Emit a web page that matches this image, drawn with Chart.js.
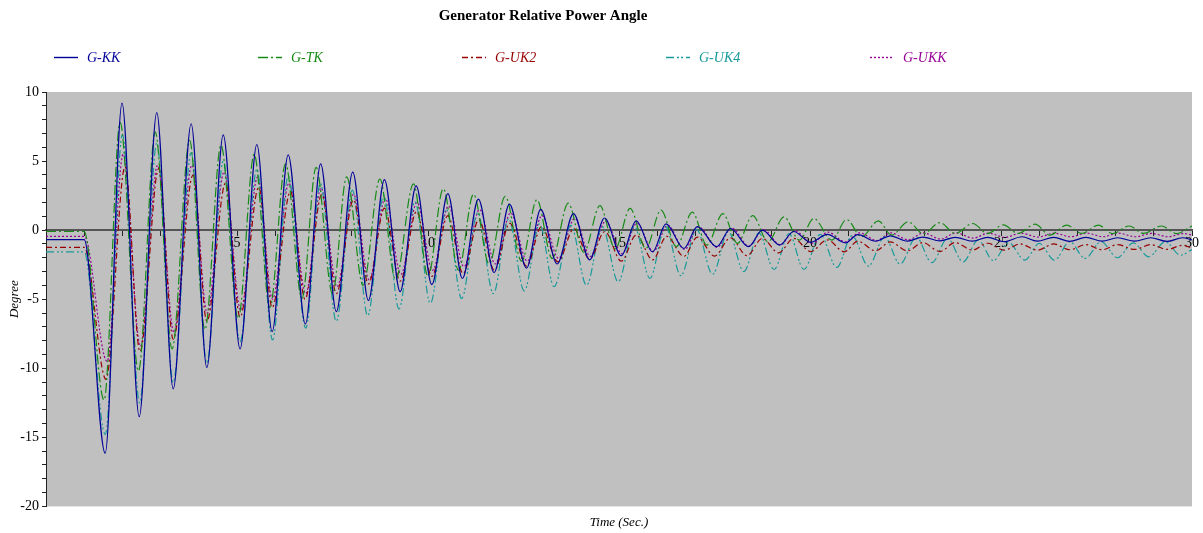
<!DOCTYPE html>
<html>
<head>
<meta charset="utf-8">
<title>Generator Relative Power Angle</title>
<script src="https://cdn.jsdelivr.net/npm/chart.js@4"></script>
<style>
  html, body { margin: 0; padding: 0; background: #fff; }
  #angle { display: block; }
</style>
</head>
<body>
<canvas id="angle" width="1203" height="533"></canvas>
<script>
const seriesNames = ["G-KK", "G-TK", "G-UK2", "G-UK4", "G-UKK"];
const seriesColors = ["#000098", "#168a16", "#960000", "#1a9a9a", "#960096"];
const seriesDashes = [[], [10, 3, 2, 3], [6, 3, 2, 3], [8, 3, 2, 2, 2, 3], [2, 2]];

// [time (s), angle (deg)]: pre-fault level, then each peak / trough
const gKK = [
  [0, -0.68], [1.0, -0.68], [1.55, -16.15], [1.99, 9.2], [2.44, -13.5], [2.90, 8.5],
  [3.33, -11.5], [3.80, 7.7], [4.21, -9.95], [4.64, 6.9], [5.08, -8.6], [5.52, 6.2],
  [5.92, -7.35], [6.34, 5.45], [6.79, -6.8], [7.19, 4.8], [7.60, -5.9], [8.03, 4.2],
  [8.44, -5.1], [8.86, 3.65], [9.27, -4.45], [9.69, 3.2], [10.10, -3.95], [10.52, 2.65],
  [10.90, -3.5], [11.32, 2.25], [11.73, -3.08], [12.13, 1.88], [12.58, -2.75], [12.95, 1.5],
  [13.38, -2.45], [13.81, 1.2], [14.23, -2.15], [14.62, 0.88], [15.06, -1.85], [15.45, 0.67],
  [15.88, -1.57], [16.23, 0.45], [16.70, -1.33], [17.05, 0.26], [17.56, -1.2], [17.92, 0.12],
  [18.39, -1.2], [18.75, 0.0], [19.21, -1.08], [19.57, -0.1], [20.02, -0.88], [20.45, -0.3],
  [20.93, -0.92], [21.25, -0.33], [21.72, -0.8], [22.10, -0.42], [22.55, -0.8], [22.95, -0.5],
  [23.40, -0.78], [23.80, -0.52], [24.25, -0.8], [24.65, -0.52], [25.08, -0.84], [25.55, -0.48],
  [25.95, -0.8], [26.38, -0.52], [26.80, -0.82], [27.22, -0.52], [27.65, -0.8], [28.05, -0.55],
  [28.50, -0.8], [28.92, -0.55], [29.35, -0.82], [29.75, -0.55], [30, -0.7]
];
const gTK = [
  [0, -0.1], [1.0, -0.1], [1.52, -12.3], [1.94, 7.8], [2.42, -10.2], [2.86, 7.1],
  [3.30, -8.6], [3.76, 6.5], [4.16, -7.2], [4.58, 6.15], [5.03, -6.4], [5.45, 5.5],
  [5.86, -5.6], [6.27, 4.8], [6.70, -4.95], [7.07, 4.55], [7.50, -4.6], [7.87, 3.86],
  [8.30, -4.0], [8.74, 3.7], [9.15, -3.6], [9.62, 3.35], [10.00, -3.35], [10.40, 3.0],
  [10.80, -2.9], [11.19, 2.6], [11.60, -2.45], [12.02, 2.45], [12.45, -2.25], [12.85, 2.2],
  [13.25, -2.05], [13.67, 1.95], [14.08, -1.6], [14.50, 1.77], [14.90, -1.35], [15.29, 1.57],
  [15.70, -1.33], [16.10, 1.45], [16.50, -1.2], [16.92, 1.3], [17.30, -1.08], [17.72, 1.2],
  [18.10, -0.96], [18.50, 1.05], [18.90, -0.84], [19.32, 0.96], [19.72, -0.72], [20.10, 0.84],
  [20.57, -0.72], [20.96, 0.77], [21.35, -0.48], [21.79, 0.67], [22.14, -0.36], [22.57, 0.6],
  [22.97, -0.26], [23.40, 0.55], [23.80, -0.24], [24.26, 0.48], [24.65, -0.25], [25.06, 0.38],
  [25.45, -0.24], [25.89, 0.43], [26.28, -0.36], [26.72, 0.36], [27.11, -0.24], [27.55, 0.36],
  [27.92, -0.25], [28.35, 0.3], [28.73, -0.24], [29.20, 0.3], [29.60, -0.25], [30, 0.3]
];
const gUK2 = [
  [0, -1.25], [1.0, -1.25], [1.57, -10.8], [2.07, 4.6], [2.46, -8.8], [2.95, 4.45],
  [3.33, -7.9], [3.85, 4.0], [4.21, -6.6], [4.70, 3.4], [5.08, -6.3], [5.57, 3.1],
  [5.92, -5.6], [6.40, 2.8], [6.78, -5.0], [7.22, 2.6], [7.60, -4.6], [8.05, 2.2],
  [8.44, -3.9], [8.86, 1.6], [9.27, -3.7], [9.70, 1.35], [10.10, -3.35], [10.52, 1.05],
  [10.92, -3.15], [11.33, 0.75], [11.74, -2.9], [12.14, 0.5], [12.58, -2.6], [12.97, 0.25],
  [13.40, -2.3], [13.82, 0.1], [14.23, -2.1], [14.63, -0.1], [15.06, -2.25], [15.45, -0.35],
  [15.88, -2.15], [16.25, -0.45], [16.70, -1.9], [17.05, -0.5], [17.50, -1.88], [17.92, -0.55],
  [18.35, -1.85], [18.75, -0.6], [19.18, -1.65], [19.57, -0.6], [20.02, -1.55], [20.45, -0.7],
  [20.90, -1.57], [21.25, -0.8], [21.72, -1.5], [22.10, -0.85], [22.55, -1.5], [22.95, -0.9],
  [23.40, -1.55], [23.80, -0.9], [24.25, -1.45], [24.65, -0.95], [25.08, -1.45], [25.50, -1.0],
  [25.95, -1.45], [26.38, -1.0], [26.80, -1.42], [27.22, -1.05], [27.65, -1.42], [28.05, -1.05],
  [28.50, -1.4], [28.92, -1.05], [29.35, -1.4], [29.75, -1.1], [30, -1.3]
];
const gUK4 = [
  [0, -1.57], [1.0, -1.57], [1.55, -14.8], [2.00, 6.9], [2.45, -12.5], [2.90, 6.3],
  [3.33, -11.0], [3.80, 5.6], [4.21, -9.6], [4.64, 5.0], [5.08, -8.1], [5.52, 4.4],
  [5.93, -7.95], [6.34, 3.9], [6.80, -7.1], [7.18, 3.4], [7.60, -6.6], [8.02, 2.9],
  [8.42, -6.2], [8.84, 2.5], [9.24, -5.7], [9.66, 2.05], [10.06, -5.3], [10.48, 1.5],
  [10.88, -4.95], [11.30, 1.25], [11.71, -4.6], [12.11, 0.8], [12.52, -4.4], [12.92, 0.45],
  [13.30, -4.1], [13.74, 0.35], [14.15, -4.0], [14.56, 0.25], [14.98, -3.75], [15.40, 0.3],
  [15.81, -3.5], [16.21, 0.3], [16.62, -3.3], [17.03, 0.05], [17.45, -3.2], [17.86, -0.1],
  [18.27, -3.0], [18.66, -0.2], [19.06, -2.85], [19.45, -0.25], [19.84, -2.85], [20.27, -0.3],
  [20.70, -2.7], [21.10, -0.4], [21.53, -2.6], [21.95, -0.5], [22.36, -2.46], [22.78, -0.5],
  [23.19, -2.36], [23.60, -0.6], [24.01, -2.3], [24.40, -0.72], [24.80, -2.2], [25.20, -0.9],
  [25.62, -2.17], [26.00, -0.96], [26.40, -2.17], [26.80, -0.84], [27.20, -2.05], [27.62, -0.84],
  [28.05, -2.0], [28.46, -0.92], [28.87, -1.93], [29.30, -0.84], [29.70, -1.82], [30, -1.4]
];
const gUKK = [
  [0, -0.45], [1.0, -0.45], [1.60, -9.5], [2.02, 5.5], [2.47, -8.4], [2.92, 4.7],
  [3.35, -7.4], [3.82, 4.7], [4.22, -6.0], [4.66, 4.2], [5.10, -5.8], [5.54, 3.85],
  [5.93, -5.0], [6.36, 3.4], [6.80, -4.6], [7.20, 3.05], [7.62, -4.1], [8.05, 2.6],
  [8.46, -3.6], [8.88, 2.3], [9.29, -3.2], [9.71, 2.0], [10.12, -2.9], [10.54, 1.75],
  [10.94, -2.65], [11.35, 1.5], [11.76, -2.45], [12.16, 1.25], [12.60, -2.25], [12.98, 1.05],
  [13.42, -2.05], [13.84, 0.85], [14.25, -1.9], [14.65, 0.65], [15.08, -1.7], [15.47, 0.5],
  [15.90, -1.55], [16.27, 0.35], [16.72, -1.4], [17.08, 0.25], [17.57, -1.25], [17.95, 0.15],
  [18.40, -1.15], [18.78, 0.05], [19.22, -1.05], [19.60, -0.05], [20.05, -0.95], [20.47, -0.15],
  [20.92, -0.84], [21.30, -0.2], [21.74, -0.75], [22.12, -0.2], [22.57, -0.7], [22.97, -0.2],
  [23.42, -0.65], [23.82, -0.2], [24.27, -0.58], [24.67, -0.22], [25.10, -0.52], [25.52, -0.22],
  [25.97, -0.5], [26.40, -0.22], [26.82, -0.48], [27.24, -0.22], [27.67, -0.48], [28.07, -0.22],
  [28.52, -0.48], [28.94, -0.24], [29.37, -0.48], [29.77, -0.25], [30, -0.35]
];
const seriesData = [gKK, gTK, gUK2, gUK4, gUKK];

const timeLabels = [5, 10, 15, 20, 25, 30];
const degreeLabels = [10, 5, 0, -5, -10, -15, -20];

const serif = "'Liberation Serif', 'Times New Roman', serif";

// grey plot area
const plotBackground = {
  id: "plotBackground",
  beforeDraw(chart) {
    const { ctx, chartArea: a } = chart;
    ctx.save();
    ctx.fillStyle = "#c0c0c0";
    ctx.fillRect(a.left, a.top, a.right - a.left, a.bottom - a.top);
    ctx.restore();
  }
};

// title and legend sit where the original puts them (not centred on the canvas)
const header = {
  id: "header",
  afterDraw(chart) {
    const ctx = chart.ctx;
    ctx.save();
    ctx.font = "bold 15px " + serif;
    ctx.fillStyle = "#000";
    ctx.textAlign = "center";
    ctx.textBaseline = "middle";
    ctx.fillText("Generator Relative Power Angle", 543, 16);

    ctx.font = "italic 14px " + serif;
    ctx.textAlign = "left";
    chart.data.datasets.forEach((ds, i) => {
      const x = 54 + i * 204;
      const y = 57;
      ctx.strokeStyle = ds.borderColor;
      ctx.lineWidth = 1.4;
      ctx.setLineDash(ds.borderDash);
      ctx.beginPath();
      ctx.moveTo(x, y + 0.5);
      ctx.lineTo(x + 24, y + 0.5);
      ctx.stroke();
      ctx.setLineDash([]);
      ctx.fillStyle = ds.borderColor;
      ctx.fillText(ds.label, x + 33, y + 1);
    });
    ctx.restore();
  }
};

const datasets = seriesData.map((pts, i) => ({
  label: seriesNames[i],
  data: pts.map(p => ({ x: p[0], y: p[1] })),
  xAxisID: "x",
  yAxisID: "y",
  borderColor: seriesColors[i],
  borderDash: seriesDashes[i],
  borderWidth: 1.2,
  pointRadius: 0,
  cubicInterpolationMode: "monotone",
  fill: false
}));

new Chart(document.getElementById("angle"), {
  type: "line",
  data: { datasets: datasets },
  options: {
    responsive: false,
    animation: false,
    devicePixelRatio: 1,
    layout: { padding: { top: 92, right: 11, left: 0, bottom: 0 } },
    plugins: {
      legend: { display: false },
      tooltip: { enabled: false }
    },
    scales: {
      x: {
        type: "linear",
        position: { y: 0 },
        min: 0,
        max: 30,
        grid: { drawOnChartArea: false, drawTicks: true, tickLength: 5, color: "#222" },
        border: { color: "#555", width: 2 },
        ticks: {
          stepSize: 1,
          autoSkip: false,
          maxRotation: 0,
          padding: 0,
          color: "#000",
          font: { family: serif, size: 14 },
          callback: v => (timeLabels.includes(v) ? String(v) : "")
        }
      },
      xTitle: {
        type: "linear",
        position: "bottom",
        axis: "x",
        min: 0,
        max: 30,
        grid: { display: false },
        border: { display: false },
        ticks: { display: false },
        title: {
          display: true,
          text: "Time (Sec.)",
          color: "#000",
          font: { family: serif, size: 13, style: "italic" },
          padding: { top: 0, bottom: 3 }
        }
      },
      y: {
        type: "linear",
        position: "left",
        min: -20,
        max: 10,
        afterFit: s => { s.width = 46; },
        grid: { drawOnChartArea: false, drawTicks: true, tickLength: 4, color: "#222" },
        border: { color: "#222", width: 1 },
        ticks: {
          stepSize: 1,
          autoSkip: false,
          padding: 3,
          color: "#000",
          font: { family: serif, size: 14 },
          callback: v => (degreeLabels.includes(v) ? String(v) : "")
        },
        title: {
          display: true,
          text: "Degree",
          color: "#000",
          font: { family: serif, size: 13, style: "italic" },
          padding: { top: 7, bottom: 0 }
        }
      }
    }
  },
  plugins: [plotBackground, header]
});
</script>
</body>
</html>
